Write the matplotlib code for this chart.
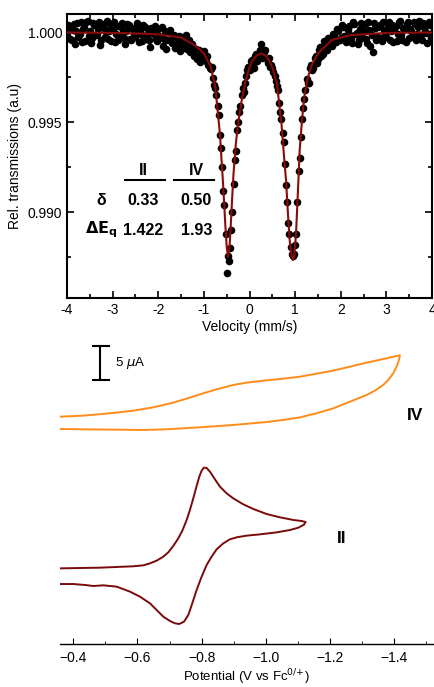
import numpy as np
import matplotlib.pyplot as plt
from matplotlib.ticker import MultipleLocator

plt.rcParams['font.family'] = ['Liberation Sans', 'DejaVu Sans']

# Mossbauer spectrum (velocity in mm/s, relative transmission), two interleaved channel sets
velocity_a = [
    -4.00, -3.95, -3.90, -3.85, -3.80, -3.75, -3.70, -3.65, -3.60, -3.55,
    -3.50, -3.45, -3.40, -3.35, -3.30, -3.25, -3.20, -3.15, -3.10, -3.05,
    -3.00, -2.95, -2.90, -2.85, -2.80, -2.75, -2.70, -2.65, -2.60, -2.55,
    -2.50, -2.45, -2.40, -2.35, -2.30, -2.25, -2.20, -2.15, -2.10, -2.05,
    -2.00, -1.95, -1.90, -1.85, -1.80, -1.75, -1.70, -1.65, -1.60, -1.55,
    -1.50, -1.45, -1.40, -1.35, -1.30, -1.25, -1.20, -1.15, -1.10, -1.05,
    -1.00, -0.95, -0.90, -0.85, -0.80, -0.75, -0.70, -0.65, -0.60, -0.55,
    -0.50, -0.45, -0.40, -0.35, -0.30, -0.25, -0.20, -0.15, -0.10, -0.05,
    0.00, 0.05, 0.10, 0.15, 0.20, 0.25, 0.30, 0.35, 0.40, 0.45,
    0.50, 0.55, 0.60, 0.65, 0.70, 0.75, 0.80, 0.85, 0.90, 0.95,
    1.00, 1.05, 1.10, 1.15, 1.20, 1.25, 1.30, 1.35, 1.40, 1.45,
    1.50, 1.55, 1.60, 1.65, 1.70, 1.75, 1.80, 1.85, 1.90, 1.95,
    2.00, 2.05, 2.10, 2.15, 2.20, 2.25, 2.30, 2.35, 2.40, 2.45,
    2.50, 2.55, 2.60, 2.65, 2.70, 2.75, 2.80, 2.85, 2.90, 2.95,
    3.00, 3.05, 3.10, 3.15, 3.20, 3.25, 3.30, 3.35, 3.40, 3.45,
    3.50, 3.55, 3.60, 3.65, 3.70, 3.75, 3.80, 3.85, 3.90, 3.95,
    4.00,
]
transmission_a = [
    0.99985, 1.00030, 0.99960, 1.00045, 1.00010, 0.99975, 1.00055, 1.00020, 0.99950, 1.00065,
    1.00005, 0.99970, 1.00040, 0.99990, 1.00060, 0.99955, 1.00025, 1.00000, 0.99965, 1.00045,
    1.00015, 0.99945, 1.00035, 0.99980, 1.00050, 0.99970, 1.00010, 1.00040, 0.99955, 1.00020,
    0.99975, 1.00035, 1.00005, 0.99950, 1.00030, 0.99985, 0.99960, 1.00025, 0.99990, 0.99965,
    1.00020, 0.99975, 0.99925, 1.00010, 0.99960, 1.00015, 0.99940, 0.99985, 0.99930, 0.99980,
    0.99950, 0.99915, 0.99985, 0.99940, 0.99890, 0.99935, 0.99905, 0.99850, 0.99900, 0.99865,
    0.99895, 0.99840, 0.99820, 0.99795, 0.99745, 0.99690, 0.99590, 0.99430, 0.99250, 0.99040,
    0.98665, 0.98730, 0.98900, 0.99160, 0.99340, 0.99500, 0.99590, 0.99690, 0.99720, 0.99790,
    0.99790, 0.99845, 0.99800, 0.99880, 0.99860, 0.99935, 0.99870, 0.99900, 0.99830, 0.99810,
    0.99800, 0.99760, 0.99700, 0.99610, 0.99520, 0.99390, 0.99150, 0.98940, 0.98810, 0.98760,
    0.98820, 0.99060, 0.99300, 0.99520, 0.99630, 0.99740, 0.99720, 0.99820, 0.99800, 0.99870,
    0.99850, 0.99920, 0.99880, 0.99940, 0.99900, 0.99960, 0.99925, 0.99980, 0.99945, 1.00010,
    0.99970, 1.00030, 0.99955, 1.00015, 0.99985, 0.99940, 1.00045, 0.99995, 0.99960, 1.00050,
    1.00010, 0.99965, 1.00060, 0.99925, 0.99890, 1.00025, 0.99980, 1.00040, 0.99950, 1.00015,
    0.99975, 1.00055, 1.00005, 0.99945, 1.00035, 0.99990, 1.00065, 0.99960, 1.00020, 1.00045,
    0.99970, 1.00010, 1.00060, 0.99955, 1.00030, 0.99985, 1.00050, 1.00005, 0.99940, 1.00040,
    0.99995,
]
velocity_b = [
    -3.975, -3.925, -3.875, -3.825, -3.775, -3.725, -3.675, -3.625, -3.575, -3.525,
    -3.475, -3.425, -3.375, -3.325, -3.275, -3.225, -3.175, -3.125, -3.075, -3.025,
    -2.975, -2.925, -2.875, -2.825, -2.775, -2.725, -2.675, -2.625, -2.575, -2.525,
    -2.475, -2.425, -2.375, -2.325, -2.275, -2.225, -2.175, -2.125, -2.075, -2.025,
    -1.975, -1.925, -1.875, -1.825, -1.775, -1.725, -1.675, -1.625, -1.575, -1.525,
    -1.475, -1.425, -1.375, -1.325, -1.275, -1.225, -1.175, -1.125, -1.075, -1.025,
    -0.975, -0.925, -0.875, -0.825, -0.775, -0.725, -0.675, -0.625, -0.575, -0.525,
    -0.475, -0.425, -0.375, -0.325, -0.275, -0.225, -0.175, -0.125, -0.075, -0.025,
    0.025, 0.075, 0.125, 0.175, 0.225, 0.275, 0.325, 0.375, 0.425, 0.475,
    0.525, 0.575, 0.625, 0.675, 0.725, 0.775, 0.825, 0.875, 0.925, 0.975,
    1.025, 1.075, 1.125, 1.175, 1.225, 1.275, 1.325, 1.375, 1.425, 1.475,
    1.525, 1.575, 1.625, 1.675, 1.725, 1.775, 1.825, 1.875, 1.925, 1.975,
    2.025, 2.075, 2.125, 2.175, 2.225, 2.275, 2.325, 2.375, 2.425, 2.475,
    2.525, 2.575, 2.625, 2.675, 2.725, 2.775, 2.825, 2.875, 2.925, 2.975,
    3.025, 3.075, 3.125, 3.175, 3.225, 3.275, 3.325, 3.375, 3.425, 3.475,
    3.525, 3.575, 3.625, 3.675, 3.725, 3.775, 3.825, 3.875, 3.925, 3.975,
]
transmission_b = [
    1.00040, 0.99965, 1.00015, 0.99935, 1.00050, 0.99990, 0.99945, 1.00030, 1.00060, 0.99980,
    0.99940, 1.00050, 0.99985, 1.00020, 0.99930, 1.00045, 0.99975, 1.00065, 1.00010, 0.99950,
    1.00055, 0.99990, 0.99960, 1.00030, 1.00005, 0.99935, 1.00045, 0.99965, 1.00025, 0.99990,
    1.00050, 0.99945, 0.99990, 1.00040, 0.99965, 1.00020, 0.99920, 0.99995, 1.00035, 0.99950,
    0.99980, 1.00030, 0.99965, 0.99910, 1.00000, 0.99950, 0.99975, 0.99915, 0.99960, 0.99895,
    0.99975, 0.99930, 0.99905, 0.99960, 0.99920, 0.99870, 0.99910, 0.99880, 0.99835, 0.99875,
    0.99855, 0.99870, 0.99800, 0.99810, 0.99710, 0.99650, 0.99540, 0.99360, 0.99120, 0.98880,
    0.98760, 0.98800, 0.99000, 0.99290, 0.99460, 0.99560, 0.99650, 0.99670, 0.99760, 0.99810,
    0.99840, 0.99820, 0.99870, 0.99840, 0.99900, 0.99860, 0.99890, 0.99850, 0.99860, 0.99820,
    0.99780, 0.99730, 0.99680, 0.99560, 0.99440, 0.99270, 0.99060, 0.98880, 0.98770, 0.98770,
    0.98880, 0.99230, 0.99420, 0.99580, 0.99680, 0.99720, 0.99800, 0.99790, 0.99860, 0.99830,
    0.99900, 0.99870, 0.99950, 0.99910, 0.99970, 0.99930, 0.99990, 0.99950, 1.00020, 0.99960,
    1.00040, 0.99980, 0.99945, 1.00035, 0.99970, 1.00055, 0.99990, 0.99935, 1.00020, 0.99975,
    1.00045, 0.99940, 1.00015, 0.99985, 1.00050, 0.99955, 1.00030, 0.99970, 1.00060, 0.99995,
    1.00030, 0.99960, 1.00040, 1.00015, 0.99950, 1.00060, 0.99985, 1.00025, 0.99945, 1.00055,
    1.00020, 0.99975, 1.00045, 0.99990, 1.00065, 0.99960, 1.00030, 0.99995, 1.00055, 0.99970,
]

# fitted doublet curve
fit_v = [-4.0, -3.0, -2.5, -2.0, -1.5, -1.2, -1.0, -0.85, -0.75, -0.65,
         -0.58, -0.53, -0.50, -0.47, -0.44, -0.42, -0.38, -0.35, -0.30, -0.25,
         -0.18, -0.10, -0.02, 0.05, 0.15, 0.25, 0.35, 0.45, 0.52, 0.60,
         0.70, 0.76, 0.80, 0.85, 0.88, 0.92, 0.95, 0.98, 1.02, 1.06,
         1.10, 1.15, 1.20, 1.27, 1.35, 1.50, 1.80, 2.20, 3.0, 4.0]
fit_t = [0.99999, 0.99997, 0.99994, 0.99989, 0.99972, 0.99929, 0.99883, 0.99809, 0.99698, 0.99440,
         0.99161, 0.98930, 0.98809, 0.98753, 0.98800, 0.98883, 0.99080, 0.99217, 0.99380, 0.99494,
         0.99610, 0.99717, 0.99790, 0.99837, 0.99870, 0.99883, 0.99872, 0.99837, 0.99790, 0.99717,
         0.99494, 0.99300, 0.99179, 0.98960, 0.98846, 0.98760, 0.98735, 0.98760, 0.98883, 0.99110,
         0.99346, 0.99510, 0.99642, 0.99740, 0.99809, 0.99883, 0.99957, 0.99984, 0.99997, 0.99999]

table_cols = ['II', 'IV']
delta = ['0.33', '0.50']
dEq = ['1.422', '1.93']

# cyclic voltammograms (potential V vs Fc, current in uA incl. vertical offset)
iv_E = [-0.3596, -0.4313, -0.5143, -0.5870, -0.6493, -0.7116, -0.7635, -0.8050, -0.8466, -0.8985,
        -0.9400, -1.0023, -1.0542, -1.1061, -1.1580, -1.2100, -1.2619, -1.3138, -1.3657, -1.4021,
        -1.4176, -1.4147, -1.4073, -1.3969, -1.3813, -1.3657, -1.3398, -1.3138, -1.2619, -1.2100,
        -1.1580, -1.1061, -1.0542, -1.0023, -0.8985, -0.7947, -0.6909, -0.6182, -0.5351, -0.4313,
        -0.3596]
iv_I = [33.09, 33.24, 33.58, 33.96, 34.45, 35.13, 35.86, 36.49, 37.07, 37.70,
        38.04, 38.38, 38.62, 38.91, 39.35, 39.79, 40.37, 40.95, 41.48, 41.87,
        42.02, 41.34, 40.37, 39.40, 38.43, 37.70, 36.88, 36.24, 35.27, 34.30,
        33.58, 32.99, 32.61, 32.31, 31.88, 31.54, 31.25, 31.15, 31.20, 31.25,
        31.30]

ii_E = [-0.3596, -0.4832, -0.5870, -0.6181, -0.6389, -0.6597, -0.6805, -0.6960, -0.7116, -0.7272,
        -0.7407, -0.7532, -0.7635, -0.7739, -0.7843, -0.7926, -0.7999, -0.8071, -0.8155, -0.8258,
        -0.8414, -0.8570, -0.8778, -0.8985, -0.9297, -0.9609, -1.0024, -1.0440, -1.0855, -1.1115,
        -1.1239, -1.1187, -1.1011, -1.0751, -1.0336, -0.9817, -0.9401, -0.9090, -0.8882, -0.8674,
        -0.8466, -0.8310, -0.8155, -0.7999, -0.7843, -0.7708, -0.7584, -0.7449, -0.7303, -0.7168,
        -0.7012, -0.6805, -0.6597, -0.6389, -0.6078, -0.5766, -0.5351, -0.4935, -0.4624, -0.4364,
        -0.4001, -0.3596]
ii_I = [11.01, 11.11, 11.31, 11.45, 11.74, 12.13, 12.71, 13.34, 14.27, 15.38,
        16.59, 18.05, 19.51, 21.20, 23.00, 24.36, 25.23, 25.67, 25.62, 25.08,
        23.97, 22.90, 21.93, 21.20, 20.33, 19.65, 18.92, 18.44, 18.05, 17.90,
        17.76, 17.37, 16.93, 16.59, 16.25, 15.96, 15.77, 15.53, 15.24, 14.65,
        13.78, 12.71, 11.50, 9.80, 7.86, 5.92, 4.22, 3.25, 2.91, 3.01,
        3.35, 3.98, 4.95, 5.92, 6.89, 7.62, 8.35, 8.54, 8.44, 8.59,
        8.73, 8.73]

fig = plt.figure(figsize=(4.34, 6.87), dpi=100)

# ---- top: Mossbauer ----
ax1 = fig.add_axes([0.1544, 0.5662, 0.8410, 0.4134])
ax1.scatter(velocity_a, transmission_a, s=30, color='black', zorder=2, linewidths=0)
ax1.scatter(velocity_b, transmission_b, s=30, color='black', zorder=2, linewidths=0)
ax1.plot(fit_v, fit_t, color='#8b0a0a', lw=1.5, zorder=3)
ax1.set_xlim(-4, 4)
ax1.set_ylim(0.98524, 1.00102)
ax1.xaxis.set_minor_locator(MultipleLocator(0.5))
ax1.yaxis.set_minor_locator(MultipleLocator(0.0025))
ax1.set_yticks([0.990, 0.995, 1.000])
ax1.set_yticklabels(['0.990', '0.995', '1.000'])
ax1.set_xticks(range(-4, 5))
ax1.set_xticklabels([str(v) for v in range(-4, 5)])
ax1.tick_params(which='both', direction='in', top=True, right=True, labelsize=10, width=1.2)
ax1.tick_params(which='major', length=5)
ax1.tick_params(which='minor', length=3)
for sp in ax1.spines.values():
    sp.set_linewidth(1.5)
ax1.set_xlabel('Velocity (mm/s)', fontsize=10, labelpad=2)
ax1.set_ylabel('Rel. transmissions (a.u)', fontsize=10, labelpad=4)

tx = [0.2085, 0.3544]
for i, name in enumerate(table_cols):
    ax1.text(tx[i], 0.4507, name, transform=ax1.transAxes, ha='center', va='center',
             fontsize=11.5, fontweight='bold')
    ax1.text(tx[i], 0.345, delta[i], transform=ax1.transAxes, ha='center', va='center',
             fontsize=11.5, fontweight='bold')
    ax1.text(tx[i], 0.2394, dEq[i], transform=ax1.transAxes, ha='center', va='center',
             fontsize=11.5, fontweight='bold')
ax1.plot([0.1585, 0.2678], [0.4144, 0.4144], transform=ax1.transAxes, color='black', lw=1.5)
ax1.plot([0.2932, 0.4022], [0.4144, 0.4144], transform=ax1.transAxes, color='black', lw=1.5)
ax1.text(0.0948, 0.345, 'δ', transform=ax1.transAxes, ha='center', va='center',
         fontsize=11.5, fontweight='bold')
ax1.text(0.0948, 0.2394, r'$\mathbf{\Delta E_q}$', transform=ax1.transAxes, ha='center',
         va='center', fontsize=11.5)

# ---- bottom: CV ----
ax2 = fig.add_axes([0.1382, 0.0626, 0.8594, 0.4425])
ax2.plot(iv_E, iv_I, color='#ff8c1a', lw=1.4)
ax2.plot(ii_E, ii_I, color='#7a0a0a', lw=1.4)
ax2.set_xlim(-0.3586, -1.5206)
ax2.set_ylim(0, 44.25)
for s in ['left', 'right', 'top']:
    ax2.spines[s].set_visible(False)
ax2.spines['bottom'].set_linewidth(1.0)
ax2.set_yticks([])
ax2.xaxis.set_minor_locator(MultipleLocator(0.1))
ax2.set_xticks([-0.4, -0.6, -0.8, -1.0, -1.2, -1.4])
ax2.set_xticklabels(['\u22120.4', '\u22120.6', '\u22120.8', '\u22121.0', '\u22121.2', '\u22121.4'])
ax2.tick_params(which='major', direction='in', length=4, labelsize=10, pad=5)
ax2.tick_params(which='minor', direction='in', length=2.5)
ax2.set_xlabel(r'Potential (V vs Fc$^{0/{+}}$)', fontsize=9.5, labelpad=2)

# scale bar
ax2.plot([-0.4832, -0.4832], [38.4, 43.4], color='black', lw=1.5)
ax2.plot([-0.4614, -0.5112], [43.4, 43.4], color='black', lw=1.5)
ax2.plot([-0.4614, -0.5112], [38.4, 38.4], color='black', lw=1.5)
ax2.text(-0.530, 40.9, r'5 $\mu$A', ha='left', va='center', fontsize=9.5)

ax2.text(-1.4645, 33.3, 'IV', ha='center', va='center', fontsize=12.5, fontweight='bold')
ax2.text(-1.2361, 15.39, 'II', ha='center', va='center', fontsize=12.5, fontweight='bold')

plt.savefig('out.png', dpi=100)
